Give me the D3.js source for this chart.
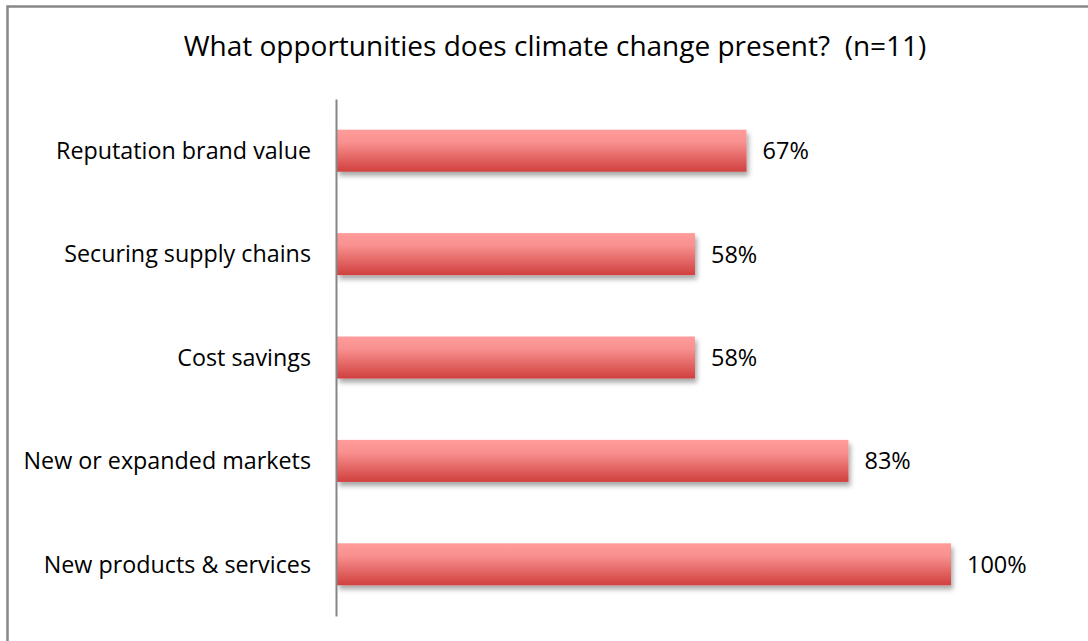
<!DOCTYPE html>
<html>
<head>
<meta charset="utf-8">
<script src="https://cdn.jsdelivr.net/npm/d3@7"></script>
<style>
  body { margin: 0; background: #fff; }
  text { font-family: "Open Sans", sans-serif; fill: #000; }
</style>
</head>
<body>
<div id="chart"></div>
<script>
var categories = ["Reputation brand value", "Securing supply chains", "Cost savings", "New or expanded markets", "New products & services"];
var values = [66.7, 58.3, 58.3, 83.3, 100];
var valueLabels = ["67%", "58%", "58%", "83%", "100%"];
var title = "What opportunities does climate change present?  (n=11)";

var w = 1088, h = 641;
var m = {t: 99, r: 137, b: 25, l: 337};

var svg = d3.select("#chart").append("svg")
    .attr("width", w)
    .attr("height", h);

var defs = svg.append("defs");
var grad = defs.append("linearGradient")
    .attr("id", "barGrad")
    .attr("x1", 0).attr("y1", 0).attr("x2", 0).attr("y2", 1);
grad.append("stop").attr("offset", "0%").attr("stop-color", "#ff9c9b");
grad.append("stop").attr("offset", "30%").attr("stop-color", "#f8908f");
grad.append("stop").attr("offset", "100%").attr("stop-color", "#d0403e");

var shadow = defs.append("filter")
    .attr("id", "shadow")
    .attr("x", "-5%").attr("y", "-20%").attr("width", "115%").attr("height", "160%");
shadow.append("feDropShadow")
    .attr("dx", 2).attr("dy", 4)
    .attr("stdDeviation", 2.5)
    .attr("flood-color", "#000")
    .attr("flood-opacity", 0.35);

// outer border (runs off the right and bottom edges)
svg.append("path")
    .attr("d", "M7.5," + (h + 5) + "V6.5H" + (w + 5))
    .style("fill", "none")
    .style("stroke", "#888")
    .style("stroke-width", 2.5);

svg.append("text")
    .text(title)
    .attr("x", 555)
    .attr("y", 56)
    .style("text-anchor", "middle")
    .style("white-space", "pre")
    .style("font-size", "28px");

var x = d3.scaleLinear().domain([0, 100]).range([m.l, w - m.r]);
var y = d3.scaleBand().domain(categories).range([m.t, h - m.b]).paddingInner(0.594).paddingOuter(0.297);

svg.selectAll(".bar")
    .data(values)
    .enter()
    .append("rect")
    .attr("class", "bar")
    .attr("x", x(0))
    .attr("y", function(d, i){ return y(categories[i]); })
    .attr("width", function(d){ return x(d) - x(0); })
    .attr("height", y.bandwidth())
    .style("fill", "url(#barGrad)")
    .attr("filter", "url(#shadow)");

svg.selectAll(".val")
    .data(values)
    .enter()
    .append("text")
    .attr("class", "val")
    .text(function(d, i){ return valueLabels[i]; })
    .attr("x", function(d){ return x(d) + 16; })
    .attr("y", function(d, i){ return y(categories[i]) + y.bandwidth() / 2; })
    .attr("dy", "0.36em")
    .style("font-size", "23.5px");

var yAxis = svg.append("g")
    .attr("transform", "translate(" + (m.l - 1) + ",0)")
    .call(d3.axisLeft(y).tickSize(0).tickPadding(25));
yAxis.select(".domain").style("stroke", "#868686").style("stroke-width", 2);
yAxis.selectAll(".tick text")
    .style("font-size", "23.3px")
    .style("font-family", "'Open Sans', sans-serif")
    .attr("dy", "0.36em")
    .attr("fill", "#000");
</script>
</body>
</html>
